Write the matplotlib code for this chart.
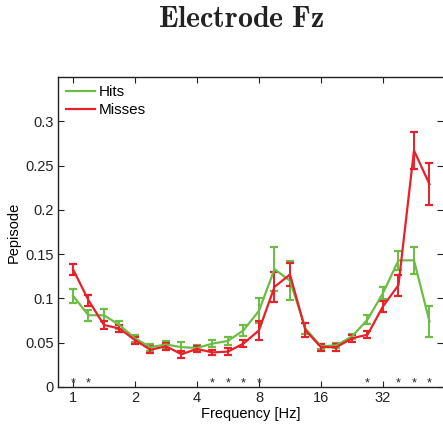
import numpy as np
import matplotlib.pyplot as plt
from matplotlib.lines import Line2D

# quarter-octave frequencies 1 .. 53.8 Hz
freqs = 2 ** (np.arange(24) / 4.0)

hits = [0.103, 0.081, 0.081, 0.070, 0.055, 0.045, 0.048, 0.045, 0.044, 0.049,
        0.052, 0.064, 0.086, 0.133, 0.120, 0.066, 0.046, 0.047, 0.057, 0.076,
        0.106, 0.143, 0.143, 0.074]
hits_err = [0.008, 0.006, 0.007, 0.004, 0.004, 0.004, 0.004, 0.006, 0.003, 0.004,
            0.005, 0.006, 0.014, 0.025, 0.022, 0.006, 0.003, 0.003, 0.003, 0.005,
            0.007, 0.011, 0.015, 0.018]
misses = [0.133, 0.098, 0.070, 0.066, 0.053, 0.042, 0.046, 0.037, 0.043, 0.039,
          0.040, 0.049, 0.064, 0.113, 0.127, 0.064, 0.045, 0.045, 0.055, 0.059,
          0.091, 0.115, 0.267, 0.229]
misses_err = [0.006, 0.006, 0.005, 0.004, 0.004, 0.004, 0.004, 0.004, 0.003, 0.003,
              0.004, 0.004, 0.011, 0.017, 0.013, 0.008, 0.004, 0.004, 0.004, 0.004,
              0.006, 0.012, 0.021, 0.024]
signif = [0, 1, 9, 10, 11, 12, 19, 21, 22, 23]   # indices marked with *

xticks = [1, 2, 4, 8, 16, 32]

green = '#6cbd45'
red = '#e8202a'

plt.rcParams['font.family'] = ['Liberation Sans', 'DejaVu Sans']
plt.rcParams['mathtext.fontset'] = 'cm'

fig = plt.figure(figsize=(4.43, 4.26), dpi=100)
ax = fig.add_axes([58/443, 1 - 387/426, 1 - 58/443, (387 - 77)/426])

ax.errorbar(freqs, hits, yerr=hits_err, color=green, lw=1.6, capsize=3,
            capthick=1.6, elinewidth=1.4)
ax.errorbar(freqs, misses, yerr=misses_err, color=red, lw=1.6, capsize=3,
            capthick=1.6, elinewidth=1.4)

for i in signif:
    ax.text(freqs[i], 0.0045, '*', ha='center', va='center', fontsize=9, color='#222222')

ax.set_xscale('log', base=2)
ax.set_xlim(0.846, 62.6)
ax.set_ylim(0, 0.35)
ax.set_xticks(xticks)
ax.set_xticklabels([str(t) for t in xticks])
ax.minorticks_off()
ax.set_yticks([0, 0.05, 0.1, 0.15, 0.2, 0.25, 0.3])
ax.set_yticklabels(['0', '0.05', '0.1', '0.15', '0.2', '0.25', '0.3'])
ax.tick_params(direction='in', length=4, width=0.8, top=True, right=True,
               labelsize=10.5, colors='#222222', pad=3)
ax.spines['right'].set_visible(False)
for s in ['left', 'top', 'bottom']:
    ax.spines[s].set_linewidth(1.0)
    ax.spines[s].set_color('#222222')

ax.set_xlabel('Frequency [Hz]', fontsize=10.5, labelpad=1)
ax.set_ylabel('Pepisode', fontsize=10.5, labelpad=3)

handles = [Line2D([], [], color=green, lw=1.6), Line2D([], [], color=red, lw=1.6)]
ax.legend(handles, ['Hits', 'Misses'], loc='upper left', frameon=False,
          fontsize=11, handlelength=1.9, handletextpad=0.2, borderaxespad=0.15,
          labelspacing=0.25)

fig.text(241/443, 1 - 19/426, r'$\mathbf{Electrode\ Fz}$', ha='center', va='center',
         fontsize=21.5, color='#222222')

fig.savefig('out.png', dpi=100)
